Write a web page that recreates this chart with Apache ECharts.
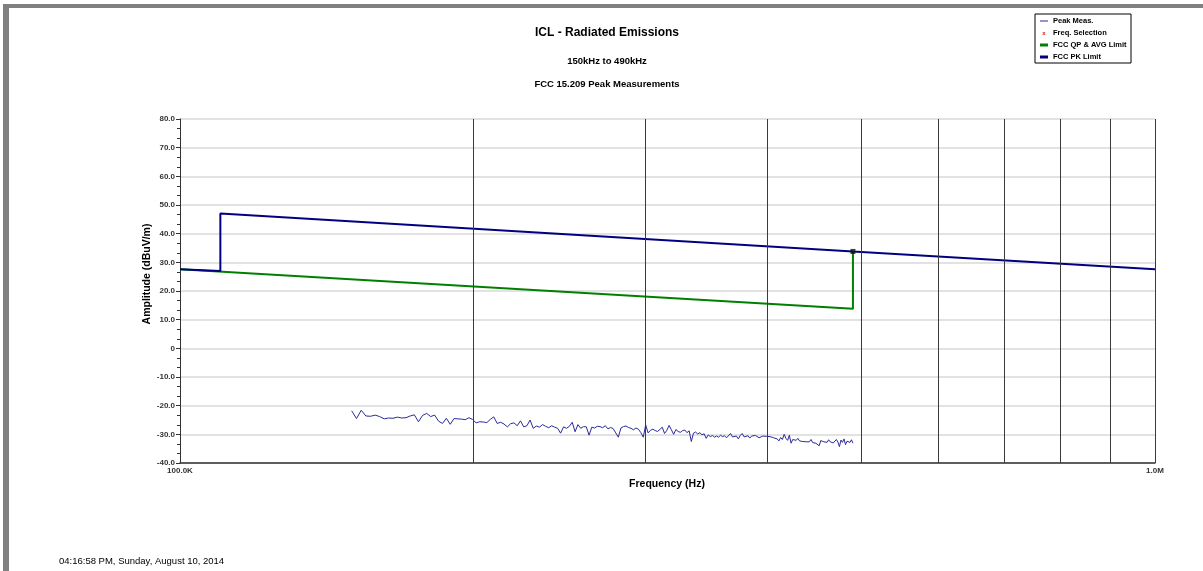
<!DOCTYPE html>
<html>
<head>
<meta charset="utf-8">
<script src="https://cdn.jsdelivr.net/npm/echarts@6/dist/echarts.min.js"></script>
<style>
html,body{margin:0;padding:0;background:#fff;}
#chart{width:1203px;height:571px;}
</style>
</head>
<body>
<div id="chart"></div>
<script>
// ---- Data ----
const titleText = 'ICL - Radiated Emissions';
const subTitle1 = '150kHz to 490kHz';
const subTitle2 = 'FCC 15.209 Peak Measurements';
const timestampText = '04:16:58 PM, Sunday, August 10, 2014';

const legendNames = ['Peak Meas.', 'Freq. Selection', 'FCC QP & AVG Limit', 'FCC PK Limit'];

// sweep grid of the peak measurement (Hz)
const sweepStartHz = 150000;
const sweepStopHz = 490000;
// measured peak values (dBuV/m), one per sweep point
const peakMeas = [
 -21.8,-24.5,-21.6,-23.6,-23.7,-23.3,
 -23.8,-24.6,-24.3,-24.4,-24.0,
 -24.3,-24.2,-23.6,-23.2,-25.6,
 -23.4,-22.7,-23.8,-23.3,-25.4,
 -26.2,-24.4,-26.5,-24.5,-24.6,
 -24.7,-24.9,-24.2,-24.8,-26.0,
 -25.6,-25.7,-25.9,-24.8,-23.9,
 -26.2,-25.8,-26.4,-27.4,-26.3,
 -26.0,-27.0,-25.3,-27.4,-27.0,
 -25.0,-27.9,-27.1,-27.5,-26.6,
 -27.2,-27.7,-27.0,-27.5,-27.9,
 -29.6,-27.4,-27.9,-27.2,-25.8,
 -29.1,-26.6,-27.9,-27.3,-27.4,
 -30.3,-27.5,-27.8,-27.2,-27.3,
 -27.7,-27.0,-28.1,-27.6,-28.0,
 -29.5,-31.0,-27.8,-27.3,-27.1,
 -27.6,-27.9,-28.4,-27.8,-28.2,
 -29.4,-31.0,-26.7,-29.5,-28.6,
 -28.2,-28.7,-29.0,-28.3,-27.5,
 -29.7,-28.6,-26.9,-28.4,-30.0,
 -28.3,-29.0,-29.3,-28.7,-28.5,-29.4,-28.8,-32.5,-29.6,-29.2,
 -29.9,-29.4,-30.2,-29.8,-31.4,-30.2,-30.8,-30.4,-31.0,-30.6,
 -31.0,-30.3,-30.8,-30.5,-31.2,-30.6,-29.7,-30.9,-31.5,-30.6,
 -31.6,-30.4,-29.7,-30.9,-31.2,-30.5,-31.3,-30.6,-31.0,-30.4,
 -30.4,-31.2,-31.5,-30.6,-31.1,-30.7,-31.3,-30.8,-31.4,-31.2,
 -30.9,-31.6,-32.3,-31.1,-31.8,-30.0,-31.4,-32.1,-30.3,-33.1,
 -31.8,-31.5,-32.1,-31.4,-32.3,-31.7,-32.5,-31.9,-32.6,-32.2,
 -32.6,-31.8,-32.9,-32.3,-33.1,-32.5,-34.0,-32.2,-31.9,-32.6,
 -32.3,-32.8,-31.9,-32.6,-32.2,-33.0,-32.4,-31.8,-32.7,-34.3,
 -32.0,-32.8,-31.6,-33.6,-32.4,-32.1,-32.8,-31.9,-33.1
];

// FCC QP & AVG limit (Hz, dBuV/m)
const qpFreqs = [100000, 490000, 490000];
const qpVals  = [27.6, 13.8, 33.8];
// FCC PK limit (Hz, dBuV/m)
const pkFreqs = [100000, 110000, 110000, 490000, 1000000];
const pkVals  = [27.6, 27.0, 47.0, 33.8, 27.6];
// frequency selection marker
const selFreqs = [490000];
const selVals  = [33.8];

// axis settings
const xMin = 100000, xMax = 1000000;
const yMin = -40, yMax = 80, yInterval = 10;
const xGridFreqs = [200000, 300000, 400000, 500000, 600000, 700000, 800000, 900000, 1000000];
const xTickLabels = {100000: '100.0K', 1000000: '1.0M'};

// ---- Build ----
const pairs = (xs, ys) => xs.map((x, i) => [x, ys[i]]);
const n = peakMeas.length;
const peakData = peakMeas.map((v, i) => [sweepStartHz + i * (sweepStopHz - sweepStartHz) / (n - 1), v]);

const chart = echarts.init(document.getElementById('chart'), null, {renderer: 'canvas'});
const FONT = '"Liberation Sans", Arial, sans-serif';

const legendX = 1035, legendY = 14;
const legendItems = [
  {name: legendNames[0], kind: 'line', color: '#2a2a9a', w: 1},
  {name: legendNames[1], kind: 'x', color: '#cc2222'},
  {name: legendNames[2], kind: 'line', color: '#008000', w: 3},
  {name: legendNames[3], kind: 'line', color: '#000080', w: 3}
];
const legendGraphics = [{
  type: 'rect', shape: {x: legendX, y: legendY, width: 96, height: 49},
  style: {fill: '#fff', stroke: '#000', lineWidth: 1}, z: 10
}];
legendItems.forEach((it, i) => {
  const cy = legendY + 7 + i * 12;
  if (it.kind === 'line') {
    legendGraphics.push({type: 'line', shape: {x1: legendX + 5, y1: cy, x2: legendX + 13, y2: cy},
      style: {stroke: it.color, lineWidth: it.w}, z: 11});
  } else {
    legendGraphics.push({type: 'text', style: {x: legendX + 9, y: cy, text: 'x', fill: it.color,
      font: 'bold 6px ' + FONT, textAlign: 'center', textVerticalAlign: 'middle'}, z: 11});
  }
  legendGraphics.push({type: 'text', style: {x: legendX + 18, y: cy, text: it.name, fill: '#000',
    font: 'bold 7.5px ' + FONT, textVerticalAlign: 'middle'}, z: 11});
});

const option = {
  animation: false,
  backgroundColor: '#fff',
  grid: {left: 180, right: 48, top: 119, bottom: 108, containLabel: false},
  xAxis: {
    type: 'log', logBase: 10, min: xMin, max: xMax,
    axisLine: {show: true, onZero: false, lineStyle: {color: '#333', width: 1.5}},
    axisTick: {show: false},
    splitLine: {show: false},
    minorTick: {show: false},
    axisLabel: {
      show: true, showMinLabel: true, showMaxLabel: true, margin: 4,
      formatter: v => xTickLabels[Math.round(v)] || '',
      color: '#333', fontSize: 8, fontWeight: 'bold', fontFamily: FONT
    }
  },
  yAxis: {
    type: 'value', min: yMin, max: yMax, interval: yInterval,
    axisLine: {show: true, onZero: false, lineStyle: {color: '#333', width: 1}},
    axisTick: {show: true, length: 4, lineStyle: {color: '#333'}},
    minorTick: {show: true, splitNumber: 3, length: 3, lineStyle: {color: '#333'}},
    splitLine: {show: true, lineStyle: {color: '#e2e2e2', width: 2}},
    axisLabel: {
      margin: 5, color: '#333', fontSize: 8, fontWeight: 'bold', fontFamily: FONT,
      formatter: v => (v === 0 ? '0' : v.toFixed(1))
    }
  },
  series: [
    {
      name: legendNames[2], type: 'line', data: pairs(qpFreqs, qpVals),
      symbol: 'none', lineStyle: {color: '#008000', width: 2}, z: 3,
      markLine: {
        silent: true, symbol: ['none', 'none'], label: {show: false},
        lineStyle: {color: '#3a3a3a', width: 1, type: 'solid'},
        data: xGridFreqs.map(f => ({xAxis: f}))
      }
    },
    {
      name: legendNames[3], type: 'line', data: pairs(pkFreqs, pkVals),
      symbol: 'none', lineStyle: {color: '#000080', width: 2}, z: 4
    },
    {
      name: legendNames[0], type: 'line', data: peakData,
      symbol: 'none', lineStyle: {color: '#2a2a9a', width: 1}, z: 5
    },
    {
      name: legendNames[1], type: 'scatter', data: pairs(selFreqs, selVals),
      symbol: 'rect', symbolSize: 5, itemStyle: {color: '#111'}, z: 6
    }
  ],
  graphic: [
    // outer frame
    {type: 'rect', shape: {x: 3, y: 4, width: 1200, height: 4}, style: {fill: '#808080'}, z: 1},
    {type: 'rect', shape: {x: 3, y: 4, width: 6, height: 567}, style: {fill: '#808080'}, z: 1},
    // titles
    {type: 'text', style: {x: 607, y: 33, text: titleText, font: 'bold 12px ' + FONT, fill: '#000',
      textAlign: 'center', textVerticalAlign: 'middle'}},
    {type: 'text', style: {x: 607, y: 61, text: subTitle1, font: 'bold 9.5px ' + FONT, fill: '#000',
      textAlign: 'center', textVerticalAlign: 'middle'}},
    {type: 'text', style: {x: 607, y: 84, text: subTitle2, font: 'bold 9.5px ' + FONT, fill: '#000',
      textAlign: 'center', textVerticalAlign: 'middle'}},
    // axis names
    {type: 'text', x: 147, y: 274, rotation: Math.PI / 2,
      style: {x: 0, y: 0, text: 'Amplitude (dBuV/m)', font: 'bold 10.5px ' + FONT, fill: '#000',
      textAlign: 'center', textVerticalAlign: 'middle'}},
    {type: 'text', style: {x: 667, y: 484, text: 'Frequency (Hz)', font: 'bold 10.5px ' + FONT, fill: '#000',
      textAlign: 'center', textVerticalAlign: 'middle'}},
    // timestamp
    {type: 'text', style: {x: 59, y: 561, text: timestampText, font: '9.5px ' + FONT, fill: '#000',
      textVerticalAlign: 'middle'}}
  ].concat(legendGraphics)
};
chart.setOption(option);
</script>
</body>
</html>
